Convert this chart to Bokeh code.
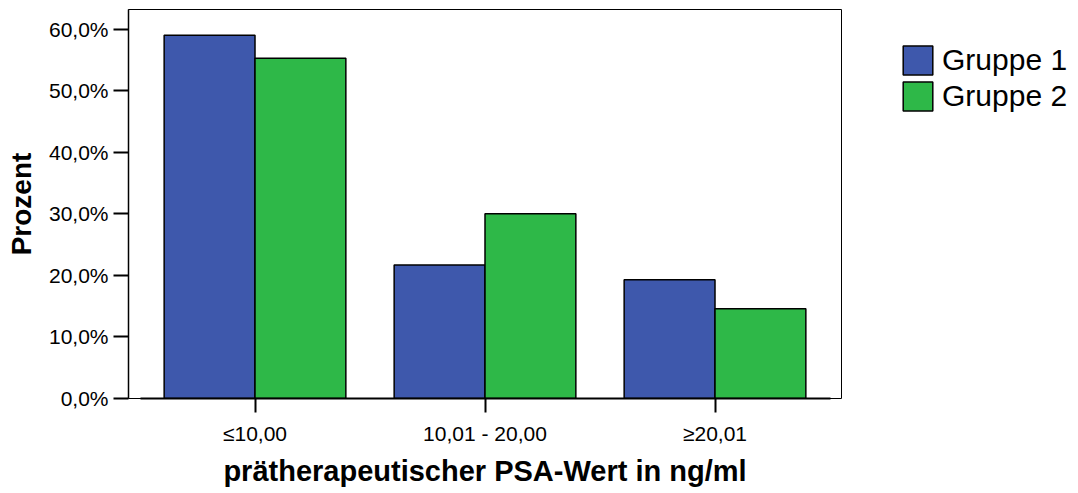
from bokeh.plotting import figure
from bokeh.layouts import row
from bokeh.models import FactorRange, Range1d, FixedTicker, ColumnDataSource, Legend, LegendItem
from bokeh.transform import dodge
from bokeh.embed import file_html
from bokeh.resources import INLINE

categories = ["≤10,00", "10,01 - 20,00", "≥20,01"]
gruppe1 = [59.0, 21.7, 19.3]
gruppe2 = [55.3, 30.0, 14.6]
series_names = ["Gruppe 1", "Gruppe 2"]
y_ticks = [0, 10, 20, 30, 40, 50, 60]
y_tick_labels = ["0,0%", "10,0%", "20,0%", "30,0%", "40,0%", "50,0%", "60,0%"]
x_title = "prätherapeutischer PSA-Wert in ng/ml"
y_title = "Prozent"

FONT = "Liberation Sans"
BLUE = "#3E58AC"
GREEN = "#2EB848"

source = ColumnDataSource(data=dict(cat=categories, g1=gruppe1, g2=gruppe2))

p = figure(
    width=843, height=493,
    x_range=FactorRange(factors=categories, range_padding=0.05, range_padding_units="absolute"),
    y_range=Range1d(0, 63.2),
    output_backend="svg", toolbar_location=None,
    min_border_left=128, min_border_right=2, min_border_top=9, min_border_bottom=95,
)

r1 = p.vbar(x=dodge("cat", -0.1975, range=p.x_range), top="g1", width=0.395, source=source,
            fill_color=BLUE, line_color="black", line_width=1.5)
r2 = p.vbar(x=dodge("cat", 0.1975, range=p.x_range), top="g2", width=0.395, source=source,
            fill_color=GREEN, line_color="black", line_width=1.5)

p.grid.visible = False
p.outline_line_color = "black"
p.outline_line_width = 1
p.background_fill_color = "white"
p.border_fill_color = "white"

# x axis
xa = p.xaxis[0]
xa.bounds = (0, 3)
xa.axis_line_width = 2
xa.axis_line_color = "black"
xa.major_tick_out = 14
xa.major_tick_in = 0
xa.major_tick_line_width = 2
xa.minor_tick_line_color = None
xa.major_label_text_font = FONT
xa.major_label_text_font_size = "21px"
xa.major_label_text_color = "black"
xa.major_label_standoff = 9
xa.axis_label = x_title
xa.axis_label_text_font = FONT
xa.axis_label_text_font_style = "bold"
xa.axis_label_text_font_size = "29px"
xa.axis_label_text_color = "black"
xa.axis_label_standoff = 7

# y axis
ya = p.yaxis[0]
ya.ticker = FixedTicker(ticks=y_ticks)
ya.major_label_overrides = {t: l for t, l in zip(y_ticks, y_tick_labels)}
ya.axis_line_width = 1.5
ya.axis_line_color = "black"
ya.major_tick_out = 15
ya.major_tick_in = 0
ya.major_tick_line_width = 2
ya.minor_tick_line_color = None
ya.major_label_text_font = FONT
ya.major_label_text_font_size = "21px"
ya.major_label_text_color = "black"
ya.major_label_standoff = 5
ya.axis_label = y_title
ya.axis_label_text_font = FONT
ya.axis_label_text_font_style = "bold"
ya.axis_label_text_font_size = "28px"
ya.axis_label_text_color = "black"
ya.axis_label_standoff = 9

# legend panel (separate figure to the right); its renderers are hidden copies of the bars
pl = figure(
    width=1078 - 843, height=493,
    x_range=FactorRange(factors=categories), y_range=Range1d(0, 63.2),
    output_backend="svg", toolbar_location=None,
    x_axis_location=None, y_axis_location=None,
    min_border_left=0, min_border_right=0, min_border_top=0, min_border_bottom=0,
)
pl.grid.visible = False
pl.outline_line_color = None
pl.background_fill_color = "white"
pl.border_fill_color = "white"
d1 = pl.vbar(x=dodge("cat", -0.1975, range=pl.x_range), top="g1", width=0.395, source=source,
             fill_color=BLUE, line_color="black", line_width=1.5, visible=False)
d2 = pl.vbar(x=dodge("cat", 0.1975, range=pl.x_range), top="g2", width=0.395, source=source,
             fill_color=GREEN, line_color="black", line_width=1.5, visible=False)

legend = Legend(
    items=[LegendItem(label=series_names[0], renderers=[d1]),
           LegendItem(label=series_names[1], renderers=[d2])],
    location=(56, 284),
    glyph_width=37, glyph_height=36,
    label_text_font=FONT, label_text_font_size="30px", label_text_color="black",
    label_standoff=6, spacing=-1, padding=0, margin=0,
    border_line_color=None, background_fill_alpha=0,
)
pl.add_layout(legend, "center")

layout = row(p, pl, spacing=0)
open("out.html", "w").write(file_html(layout, INLINE))
